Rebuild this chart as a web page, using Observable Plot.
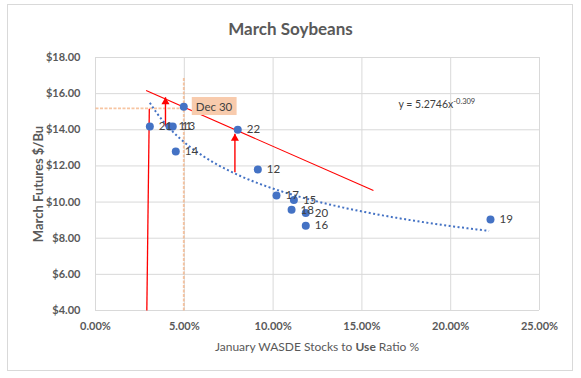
<!DOCTYPE html>
<html><head><meta charset="utf-8">
<script src="https://cdn.jsdelivr.net/npm/d3@7"></script>
<script src="https://cdn.jsdelivr.net/npm/@observablehq/plot@0.6"></script>
<style>
body{margin:0;background:#fff;font-family:Lato,"Open Sans",sans-serif;}
#wrap{position:relative;width:581px;height:378px;overflow:hidden}
#frame{position:absolute;left:7px;top:4px;width:566px;height:367px;border:1px solid #d9d9d9;box-sizing:border-box;pointer-events:none}
#title{position:absolute;left:0;width:581px;top:18px;text-align:center;font-size:17px;font-weight:bold;color:#595959}
#xtitle{position:absolute;left:95px;width:444px;top:339px;text-align:center;font-size:12px;color:#595959}
[aria-label="y-axis label"] text{font-size:13px}
</style></head>
<body>
<div id="wrap">
  <div id="frame"></div>
  <div id="chart"></div>
  <div id="title">March Soybeans</div>
  <div id="xtitle">January WASDE Stocks to <b>Use</b> Ratio %</div>
</div>
<script>
// Historical years (label), January WASDE stocks-to-use (%), March futures ($/bu)
const years      = ["21","11","13","14","22","12","17","15","18","20","16","19"];
const stocksUse  = [3.06, 4.17, 4.35, 4.52, 8.01, 9.14, 10.19, 11.17, 11.04, 11.84, 11.84, 22.24];
const marchPrice = [14.18,14.18,14.18,12.80,14.00,11.80,10.36,10.12, 9.57, 9.40, 8.69, 9.03];

// Current point
const currentLabel = ["Dec 30"];
const currentX = [4.97];
const currentY = [15.27];

// Power trendline shown on chart: y = 5.2746 x^-0.309 (x as a ratio)
const trendA = 5.2746;
const trendB = -0.309;
const trendEqMain = "y = 5.2746x";
const trendEqSup = "-0.309";
const trendEqX = [17.06];
const trendEqY = [15.4];

// Axis ticks
const xTicks = [0,5,10,15,20,25];
const yTicks = [4,6,8,10,12,14,16,18];

// Annotation lines
const redLineX = [2.85, 15.65];
const redLineY = [16.17, 10.64];
const arrowX  = [3.94, 7.85];
const arrowY1 = [14.18, 11.65];
const arrowY2 = [15.8, 13.78];
const redVertX = [2.89, 3.03];
const redVertY = [4, 15.17];
const orangeHX = [0, 4.97];
const orangeHY = [15.19];
const orangeVX = [4.97];
const orangeVY = [4, 16.9];

const points = years.map((y,i)=>({label:y, x:stocksUse[i], y:marchPrice[i]}));
const current = currentLabel.map((l,i)=>({label:l, x:currentX[i], y:currentY[i]}));
const arrows = arrowX.map((x,i)=>({x, y1:arrowY1[i], y2:arrowY2[i]}));
const [xmin,xmax] = d3.extent(stocksUse);
const trend = d3.range(xmin, xmax + 0.001, 0.1).map(x=>({x, y: trendA*Math.pow(x/100, trendB)}));

const blue = "#4472c4";
const orange = "#f4b183";
const plot = Plot.plot({
  width:581, height:378,
  marginLeft:95, marginRight:42, marginTop:57, marginBottom:68,
  style:{fontFamily:"Lato, sans-serif", fontSize:"11px", color:"#595959", background:"transparent", overflow:"visible"},
  x:{domain:[0,25]},
  y:{domain:[4,18]},
  marks:[
    Plot.gridX(xTicks,{stroke:"#d9d9d9", strokeOpacity:1}),
    Plot.gridY(yTicks,{stroke:"#d9d9d9", strokeOpacity:1}),
    Plot.axisX(xTicks,{tickSize:0, tickPadding:12, fontWeight:"bold", tickFormat:d=>d.toFixed(2)+"%", label:null}),
    Plot.axisY(yTicks,{tickSize:0, tickPadding:15, fontWeight:"bold", tickFormat:d=>"$"+d.toFixed(2),
      label:"March Futures $/Bu", labelAnchor:"center", labelOffset:62, labelArrow:"none"}),
    // orange guide lines
    Plot.link([0],{x1:orangeHX[0], x2:orangeHX[1], y1:orangeHY[0], y2:orangeHY[0], stroke:orange, strokeOpacity:0.75, strokeWidth:1.8, strokeDasharray:"3 1.5", strokeLinecap:"butt"}),
    Plot.link([0],{x1:orangeVX[0], x2:orangeVX[0], y1:orangeVY[0], y2:orangeVY[1], stroke:orange, strokeOpacity:0.75, strokeWidth:1.8, strokeDasharray:"3 1.5", strokeLinecap:"butt"}),
    // red lines
    Plot.link([0],{x1:redLineX[0], x2:redLineX[1], y1:redLineY[0], y2:redLineY[1], stroke:"#ff0000", strokeWidth:1.1}),
    Plot.link([0],{x1:redVertX[0], x2:redVertX[1], y1:redVertY[0], y2:redVertY[1], stroke:"#ff0000", strokeWidth:1.3}),
    Plot.link(arrows,{x1:"x", x2:"x", y1:"y1", y2:"y2", stroke:"#ff0000", strokeWidth:1.4}),
    Plot.dot(arrows,{x:"x", y:"y2", symbol:"triangle", r:3, fill:"#ff0000", stroke:"none", dy:4.7}),
    // trendline
    Plot.line(trend,{x:"x", y:"y", stroke:blue, strokeWidth:2, strokeDasharray:"2 2.5", strokeLinecap:"butt", curve:"linear"}),
    // points
    Plot.dot(points,{x:"x", y:"y", r:4, fill:blue, stroke:"none"}),
    Plot.dot(current,{x:"x", y:"y", r:4, fill:blue, stroke:"none"}),
    Plot.text(points,{x:"x", y:"y", text:"label", textAnchor:"start", dx:9, fill:"#404040", fontSize:11.5}),
    Plot.text(current,{x:"x", y:"y", text:"label", textAnchor:"start", dx:12, fill:"#404040", fontSize:11.5, className:"curlabel"}),
    Plot.text([0],{x:trendEqX[0], y:trendEqY[0], text:()=>trendEqMain, textAnchor:"start", fill:"#404040", fontSize:10.5, className:"eqlabel"})
  ]
});
document.getElementById("chart").appendChild(plot);

// background box for current label
const curText = plot.querySelector(".curlabel text");
if (curText) {
  const bb = curText.getBBox();
  const rect = document.createElementNS("http://www.w3.org/2000/svg","rect");
  rect.setAttribute("x", bb.x - 4); rect.setAttribute("y", bb.y - 2.5);
  rect.setAttribute("width", bb.width + 8); rect.setAttribute("height", bb.height + 5);
  rect.setAttribute("fill", "#f8cbad");
  const tr = curText.getAttribute("transform");
  if (tr) rect.setAttribute("transform", tr);
  curText.parentNode.insertBefore(rect, curText);
}
// superscript for equation
const eqText = plot.querySelector(".eqlabel text");
if (eqText) {
  const ts = document.createElementNS("http://www.w3.org/2000/svg","tspan");
  ts.textContent = trendEqSup;
  ts.setAttribute("font-size","7.5");
  ts.setAttribute("dy","-4");
  eqText.appendChild(ts);
}
</script>
</body></html>
